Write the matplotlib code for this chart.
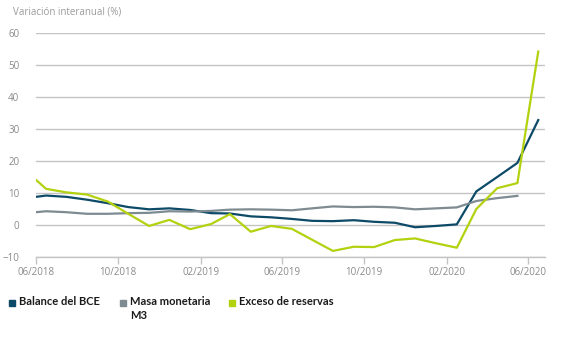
import matplotlib
matplotlib.use("Agg")
import matplotlib.pyplot as plt
import matplotlib.dates as mdates
from matplotlib.lines import Line2D
import pandas as pd

# data (year-on-year change, %)
dates = ["2018-06-01"] + [f"{y}-{m:02d}-16" for y, m in
         [(2018, mm) for mm in range(6, 13)] +
         [(2019, mm) for mm in range(1, 13)] +
         [(2020, mm) for mm in range(1, 7)]]
balance_bce = [8.8, 9.2, 8.8, 7.9, 6.8, 5.6, 4.9, 5.2, 4.7, 3.7, 3.6, 2.7, 2.4,
               1.9, 1.3, 1.2, 1.5, 1.0, 0.7, -0.7, -0.3, 0.2, 10.5, 15.0, 19.4, 32.8]
masa_m3 = [4.0, 4.3, 4.0, 3.5, 3.5, 3.7, 3.8, 4.3, 4.2, 4.4, 4.8, 4.9, 4.8,
           4.6, 5.2, 5.8, 5.6, 5.7, 5.5, 4.9, 5.2, 5.5, 7.5, 8.4, 9.1]
exceso_reservas = [14.1, 11.3, 10.2, 9.5, 7.3, 3.5, -0.3, 1.6, -1.3, 0.3, 3.4, -2.1, -0.3,
                   -1.2, -4.6, -8.1, -6.8, -6.9, -4.7, -4.2, -5.7, -7.1, 5.0, 11.5, 13.1, 54.2]

labels = ["Balance del BCE", "Masa monetaria\nM3", "Exceso de reservas"]
colors = ["#0d4a68", "#7e8b91", "#b4d10f"]
tick_dates = ["2018-06-01", "2018-10-01", "2019-02-01", "2019-06-01",
              "2019-10-01", "2020-02-01", "2020-06-01"]

plt.rcParams["font.family"] = ["Open Sans", "DejaVu Sans"]

W, H = 567, 345


def main():
    x = pd.to_datetime(dates)
    fig = plt.figure(figsize=(W / 100, H / 100), dpi=100)
    ax = fig.add_axes([36 / W, 1 - 257 / H, (545 - 36) / W, (257 - 33) / H])

    series = [balance_bce, masa_m3, exceso_reservas]
    for vals, col in zip(series, colors):
        ax.plot(x[:len(vals)], vals, color=col, linewidth=1.6, zorder=3)

    ax.set_ylim(-10, 60)
    ax.set_yticks(range(-10, 61, 10))
    ax.set_xlim(pd.Timestamp("2018-06-01"), pd.Timestamp("2020-06-26"))
    ax.set_xticks(pd.to_datetime(tick_dates))
    ax.xaxis.set_major_formatter(mdates.DateFormatter("%m/%Y"))

    ax.grid(axis="y", color="#c4c4c4", linewidth=1.0)
    ax.set_axisbelow(True)
    for s in ["top", "right", "left"]:
        ax.spines[s].set_visible(False)
    ax.spines["bottom"].set_color("#c4c4c4")
    ax.spines["bottom"].set_linewidth(1.0)
    ax.tick_params(axis="y", length=0, pad=12, labelsize=7, labelcolor="#8a8a8a")
    ax.tick_params(axis="x", length=5, width=1.0, color="#c4c4c4", pad=2,
                   labelsize=7, labelcolor="#8a8a8a")

    fig.text(13 / W, 1 - 12 / H, "Variación interanual (%)", fontsize=7,
             color="#9a9a9a", va="center", ha="left")

    # legend drawn by hand so the square sits beside the first line of text
    marker_x = [12, 123, 232]
    for mx, lab, col in zip(marker_x, labels, colors):
        fig.add_artist(Line2D([mx / W], [1 - 303 / H], transform=fig.transFigure,
                              linestyle="none", marker="s", markersize=5, color=col))
        fig.text((mx + 7) / W, 1 - 296 / H, lab, fontsize=8, fontweight="bold",
                 family=["Lato", "DejaVu Sans"], color="#1a1a1a",
                 ha="left", va="top", linespacing=1.35)

    fig.savefig("out.png", dpi=100)


if __name__ == "__main__":
    main()
